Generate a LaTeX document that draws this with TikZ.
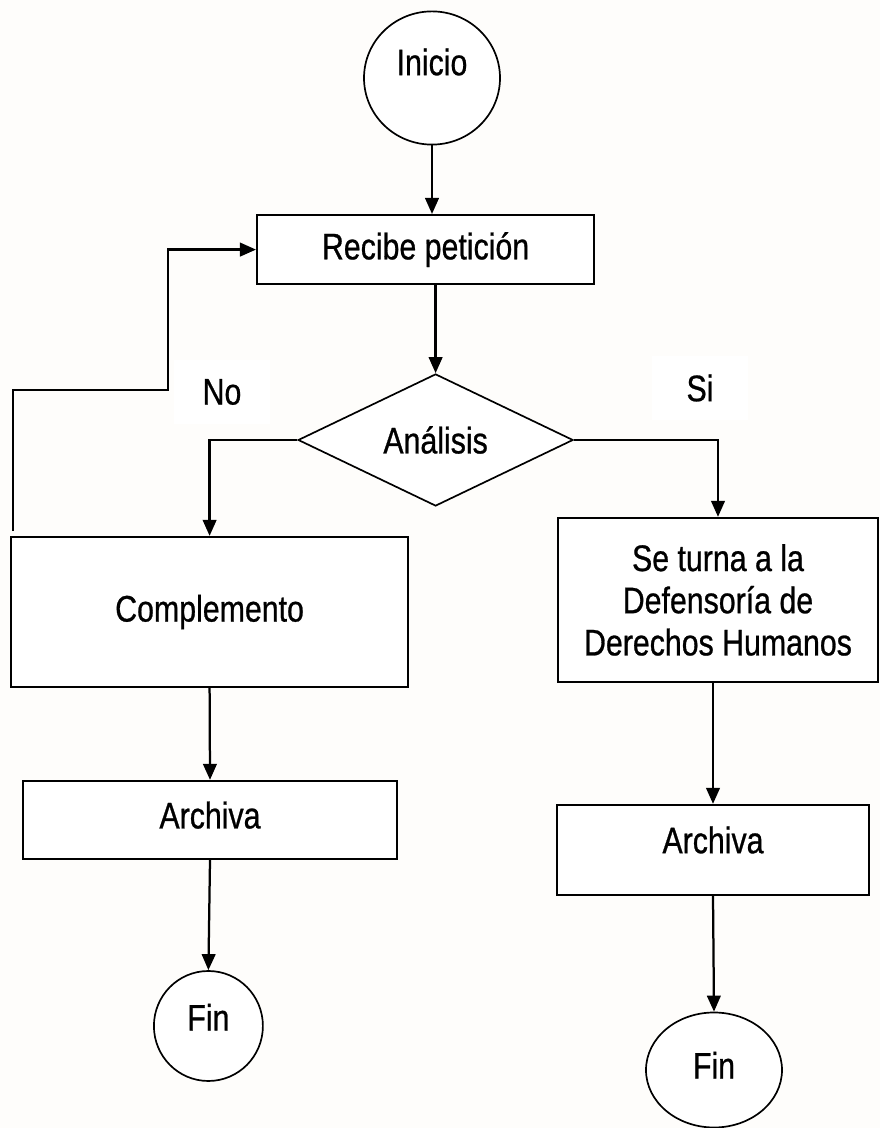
\documentclass[tikz,border=0pt]{standalone}
\usepackage{fontspec}
\setmainfont{Liberation Sans}[FakeStretch=0.82,FakeBold=0.7]
\usetikzlibrary{shapes,arrows.meta}
\definecolor{papel}{RGB}{254,253,251}

\begin{document}
\begin{tikzpicture}[>={Triangle[length=0.4cm,width=0.34cm]},line width=1.6pt,font=\fontsize{26.3pt}{30pt}\selectfont]
\tikzstyle{caja}=[rectangle,draw,fill=white,inner sep=0pt]
\tikzstyle{terminal}=[ellipse,draw,fill=white,inner sep=0pt,line width=1.2pt]
\tikzstyle{decision}=[diamond,draw,fill=white,inner sep=0pt,line width=1.2pt]
\tikzstyle{etiqueta}=[fill=white,minimum width=2.4cm,minimum height=1.6cm]
\useasboundingbox (0,0) rectangle (22,28.2);
\fill[papel] (0,0) rectangle (22,28.2);

% inicio y peticion
\node[terminal,minimum width=3.4cm,minimum height=3.33cm,label={[yshift=0.4cm]center:Inicio}](inicio) at (10.8,26.25) {};
\node[caja,minimum width=8.425cm,minimum height=1.725cm](recibe) at (10.64,21.96) {Recibe petición};
\node[decision,minimum width=6.875cm,minimum height=3.25cm](analisis) at (10.89,17.2) {Análisis};
\node[etiqueta](no) at (5.55,18.4) {No};
\node[etiqueta](si) at (17.5,18.5) {Si};

% rama No
\node[caja,minimum width=9.925cm,minimum height=3.75cm](complemento) at (5.24,12.9) {Complemento};
\node[caja,minimum width=9.35cm,minimum height=1.95cm,label={[yshift=0.12cm]center:Archiva}](archivaNo) at (5.25,7.7) {};
\node[terminal,minimum width=2.725cm,minimum height=2.75cm,label={[yshift=0.22cm]center:Fin}](finNo) at (5.21,2.55) {};

% rama Si
\node[caja,minimum width=8cm,minimum height=4.1cm,align=center](seturna) at (17.95,13.2) {Se turna a la\\Defensoría de\\Derechos Humanos};
\node[caja,minimum width=7.8cm,minimum height=2.25cm,label={[yshift=0.25cm]center:Archiva}](archivaSi) at (17.825,6.95) {};
\node[terminal,minimum width=3.4cm,minimum height=2.875cm,label={[yshift=0.12cm]center:Fin}](finSi) at (17.85,1.45) {};

\draw[->] (inicio.south) -- (inicio.south |- recibe.north);
\draw[->] (analisis.north |- recibe.south) -- (analisis.north);
\draw[->] (analisis.west) -| (complemento.north);
\draw[->] (analisis.east) -| (seturna.north);
\draw[->] (complemento.south) -- (archivaNo.north);
\draw[->] (archivaNo.south) -- (finNo.north);
\draw[->] (seturna.south -| archivaSi.north) -- (archivaSi.north);
\draw[->] (archivaSi.south) -- (finSi.north);

% regreso a recibe
\coordinate (retorno) at ([xshift=0.08cm,yshift=0.12cm]complemento.north west);
\draw[->] (retorno) |- (4.2,18.45) |- (recibe.west);
\end{tikzpicture}
\end{document}
